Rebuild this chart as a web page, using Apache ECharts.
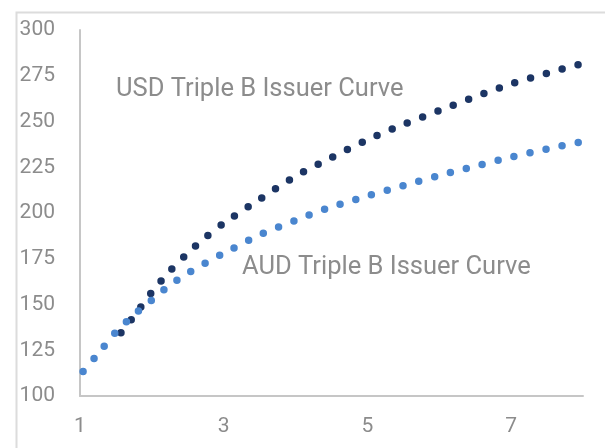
<!DOCTYPE html>
<html>
<head>
<meta charset="utf-8">
<script src="https://cdn.jsdelivr.net/npm/echarts@6/dist/echarts.min.js"></script>
<style>
  html, body { margin: 0; padding: 0; background: #ffffff; }
  #chart { width: 605px; height: 448px; }
</style>
</head>
<body>
<div id="chart"></div>
<script>
// Tenor (years) and spread (bps) for each issuer curve
const audTenor  = [1, 1.25, 1.5, 1.75, 2, 2.25, 2.5, 2.75, 3, 3.5, 4, 4.5, 5, 5.5, 6, 6.5, 7, 7.5, 8];
const audSpread = [111.5, 123, 135, 144.3, 152.5, 160.6, 167, 172.8, 178, 188, 196, 203.3, 209.3, 215, 220.5, 225.6, 230.5, 235, 239];

const usdTenor  = [1.57, 1.75, 2, 2.25, 2.5, 2.75, 3, 3.5, 4, 4.5, 5, 5.5, 6, 6.5, 7, 7.5, 8];
const usdSpread = [134.5, 143.5, 156.8, 168.3, 178.1, 186.8, 194.4, 207.5, 220.1, 230.3, 240, 248.4, 256, 263.5, 270.6, 276.4, 281.8];

const xTickLabels = [1, 3, 5, 7];
const yTickLabels = [100, 125, 150, 175, 200, 225, 250, 275, 300];

const usdName = 'USD Triple B Issuer Curve';
const audName = 'AUD Triple B Issuer Curve';

const pairs = (xs, ys) => xs.map((x, i) => [x, ys[i]]);

const labelColor = '#8c8c8c';
const axisColor = '#c6c6c6';
const dotGap = 16.4;

const chart = echarts.init(document.getElementById('chart'), null, { renderer: 'canvas' });

// Round-dot line style: zero-length dashes with round caps
const dotted = (color, offset) => ({
  color: color,
  width: 7.5,
  type: [0, dotGap],
  dashOffset: offset,
  cap: 'round'
});

chart.setOption({
  animation: false,
  backgroundColor: '#ffffff',
  grid: { left: 80, right: 22, top: 30, bottom: 52, containLabel: false },
  xAxis: {
    type: 'value',
    min: 1,
    max: 8,
    splitLine: { show: false },
    axisTick: { show: false },
    axisLine: { show: true, lineStyle: { color: axisColor, width: 2 } },
    axisLabel: {
      customValues: xTickLabels,
      color: labelColor,
      fontFamily: 'Roboto',
      fontSize: 21,
      margin: 20
    }
  },
  yAxis: {
    type: 'value',
    min: yTickLabels[0],
    max: yTickLabels[yTickLabels.length - 1],
    interval: 25,
    splitLine: { show: false },
    axisTick: { show: false },
    axisLine: { show: true, lineStyle: { color: axisColor, width: 2 } },
    axisLabel: {
      color: labelColor,
      fontFamily: 'Roboto',
      fontSize: 21,
      margin: 25
    }
  },
  graphic: [
    {
      type: 'rect',
      left: 14, top: 10,
      shape: { width: 620, height: 460 },
      style: { fill: 'none', stroke: '#dcdcdc', lineWidth: 2 },
      silent: true
    },
    {
      type: 'text',
      left: 116, top: 77,
      style: { text: usdName, fill: labelColor, font: '25.5px Roboto' }
    },
    {
      type: 'text',
      left: 242, top: 255,
      style: { text: audName, fill: labelColor, font: '25.5px Roboto' }
    }
  ],
  series: [
    {
      name: usdName,
      type: 'line',
      smooth: 0.3,
      symbol: 'none',
      data: pairs(usdTenor, usdSpread),
      lineStyle: dotted('#1c3564', 0),
      z: 2
    },
    {
      name: audName,
      type: 'line',
      smooth: 0.3,
      symbol: 'none',
      data: pairs(audTenor, audSpread),
      lineStyle: dotted('#4a86cf', dotGap - 5),
      z: 3
    }
  ]
});
</script>
</body>
</html>
